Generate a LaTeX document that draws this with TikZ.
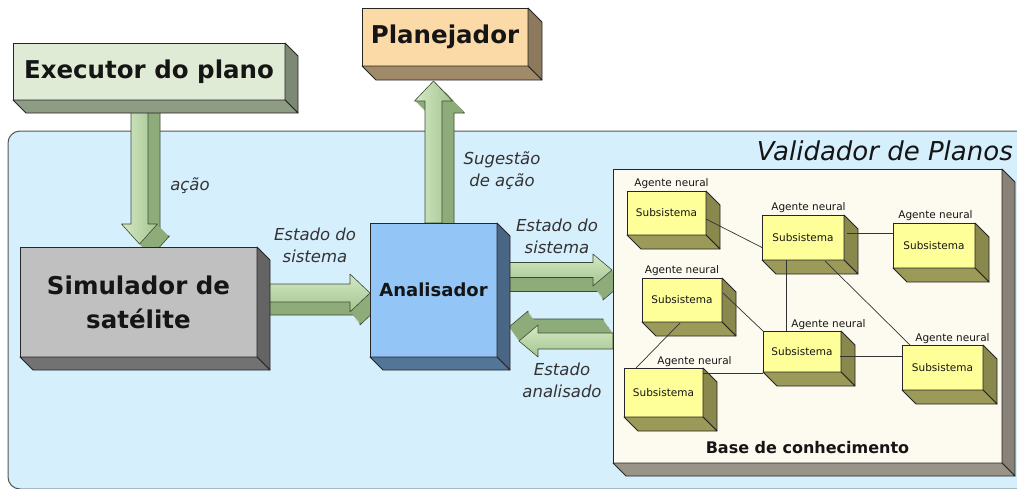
\documentclass[tikz,border=0pt]{standalone}
\usepackage{fontspec}
\setmainfont{DejaVu Sans}
\usetikzlibrary{calc}
\pgfdeclarelayer{bgl}
\pgfdeclarelayer{arrl}
\pgfsetlayers{bgl,arrl,main}
\definecolor{validbg}{HTML}{D6EFFC}
\definecolor{validline}{HTML}{555555}
\definecolor{execf}{HTML}{DFEBD5}
\definecolor{execs}{HTML}{8E9C84}
\definecolor{planf}{HTML}{FCDAA8}
\definecolor{plans}{HTML}{A08A68}
\definecolor{simf}{HTML}{C0C0C0}
\definecolor{sims}{HTML}{727272}
\definecolor{anaf}{HTML}{93C6F7}
\definecolor{anas}{HTML}{537597}
\definecolor{basef}{HTML}{FDFAEF}
\definecolor{bases}{HTML}{9A9488}
\definecolor{subf}{HTML}{FFFF99}
\definecolor{subs}{HTML}{9C9A58}
\definecolor{arrlight}{HTML}{D4E9C4}
\definecolor{arrdark}{HTML}{A4C490}
\definecolor{arrside}{HTML}{8EAC79}
\definecolor{arrline}{HTML}{3C4A34}
\definecolor{txt}{HTML}{151515}
\definecolor{ltxt}{HTML}{333333}

\newcommand\boxsides[3]{%
  \filldraw[fill=#2!88!black, draw=black!85, line width=0.8pt, line join=round]
    (#1.north east) -- ++(#3,#3) -- ($(#1.south east)+(#3,#3)$) -- (#1.south east) -- cycle;
  \filldraw[fill=#2, draw=black!85, line width=0.8pt, line join=round]
    (#1.south west) -- ++(#3,#3) -- ($(#1.south east)+(#3,#3)$) -- (#1.south east) -- cycle;
}
% one copy of a block arrow: from, to, half shaft, half head, head length, offset x, offset y (canvas), style
\newcommand\arrowpiece[8]{%
  \path[#8] let \p1=(#1), \p2=(#2), \n1={veclen(\x2-\x1,\y2-\y1)},
      \n2={(\x2-\x1)/\n1}, \n3={(\y2-\y1)/\n1} in
    ({\x1-(\n3)*#3+(#6)},{\y1+(\n2)*#3+(#7)})
 -- ({\x2-(\n2)*#5-(\n3)*#3+(#6)},{\y2-(\n3)*#5+(\n2)*#3+(#7)})
 -- ({\x2-(\n2)*#5-(\n3)*#4+(#6)},{\y2-(\n3)*#5+(\n2)*#4+(#7)})
 -- ({\x2+(#6)},{\y2+(#7)})
 -- ({\x2-(\n2)*#5+(\n3)*#4+(#6)},{\y2-(\n3)*#5-(\n2)*#4+(#7)})
 -- ({\x2-(\n2)*#5+(\n3)*#3+(#6)},{\y2-(\n3)*#5-(\n2)*#3+(#7)})
 -- ({\x1+(\n3)*#3+(#6)},{\y1-(\n2)*#3+(#7)}) -- cycle;
}
% block arrow with extrusion #6,#7 (pixels, #7 positive = down), #8 front shading
\newcommand\blockarrow[8]{%
  \arrowpiece{#1}{#2}{#3}{#4}{#5}{#6}{-(#7)}{fill=arrside, draw=arrline, line width=0.6pt, line join=round}
  \foreach \k in {11,...,1}{%
    \arrowpiece{#1}{#2}{#3}{#4}{#5}{\k*(#6)/12}{-\k*(#7)/12}{fill=arrside}}
  \arrowpiece{#1}{#2}{#3}{#4}{#5}{0}{0}{draw=arrline, line width=0.6pt, line join=round, #8}
}

\begin{document}
\begin{tikzpicture}[x=1pt,y=-1pt,
  face/.style={draw=black!85, line width=0.8pt, inner sep=0pt, outer sep=0pt,
    anchor=north west, align=center, text=txt},
  bigtxt/.style={font=\fontsize{24.5}{34}\selectfont\bfseries},
  subbox/.style={face, fill=subf, minimum width=80pt, minimum height=45pt,
    font=\fontsize{10.5}{12}\selectfont},
  agent/.style={anchor=base, inner sep=0pt, font=\fontsize{10.5}{12}\selectfont, text=txt},
  lbl/.style={align=center, inner sep=0pt, text=ltxt, font=\fontsize{16.5}{22}\selectfont\itshape},
  link/.style={draw=black!80, line width=0.7pt}]
\useasboundingbox (0,0) rectangle (1017,488);
\clip (0,0) rectangle (1017,488);

\begin{pgfonlayer}{bgl}
\fill[white] (0,0) rectangle (1017,488);
\filldraw[fill=validbg, draw=validline, line width=1pt, rounded corners=12pt]
  (8,131) rectangle (1040,489);
\end{pgfonlayer}

% main boxes
\node[face, fill=execf, minimum width=272pt, minimum height=57pt, bigtxt] (exec) at (13,43) {Executor do plano};
\boxsides{exec}{execs}{13}
\node[face, fill=planf, minimum width=166pt, minimum height=58pt, bigtxt] (plan) at (362,8) {Planejador};
\boxsides{plan}{plans}{14}
\node[face, fill=simf, minimum width=237pt, minimum height=110pt, bigtxt] (sim) at (20,247) {Simulador de\\satélite};
\boxsides{sim}{sims}{13}
\node[face, fill=anaf, minimum width=127pt, minimum height=134pt, font=\fontsize{18}{22}\selectfont\bfseries] (ana) at (370,223) {Analisador};
\boxsides{ana}{anas}{13}
\node[face, fill=basef, minimum width=389pt, minimum height=294pt] (base) at (613,169) {};
\boxsides{base}{bases}{13}
\node[anchor=center, inner sep=0pt, text=txt, font=\fontsize{16}{18}\selectfont\bfseries] (basetxt) at (807.5,448) {Base de conhecimento};

% title
\node[anchor=base east, inner sep=0pt, text=txt, font=\fontsize{26}{30}\selectfont\itshape] (title) at (1013,160) {Validador de Planos};

% sub-systems
\node[subbox, minimum width=79pt, minimum height=44pt] (s1) at (627,191) {Subsistema};
\boxsides{s1}{subs}{14}
\node[subbox, minimum width=82pt] (s2) at (762,215) {Subsistema};
\boxsides{s2}{subs}{14}
\node[subbox, minimum width=82pt] (s3) at (893,223) {Subsistema};
\boxsides{s3}{subs}{14}
\node[subbox, minimum height=44pt] (s4) at (642,278) {Subsistema};
\boxsides{s4}{subs}{14}
\node[subbox, minimum width=78pt, minimum height=41pt] (s5) at (763,331) {Subsistema};
\boxsides{s5}{subs}{14}
\node[subbox, minimum width=81pt] (s6) at (902,345) {Subsistema};
\boxsides{s6}{subs}{14}
\node[subbox, minimum width=79pt, minimum height=49pt] (s7) at (624,368) {Subsistema};
\boxsides{s7}{subs}{14}

\node[agent] (l1) at ($(s1.north)+(5,-4.5)$) {Agente neural};
\node[agent] (l2) at ($(s2.north)+(5.5,-4.5)$) {Agente neural};
\node[agent] (l3) at ($(s3.north)+(1.5,-4.5)$) {Agente neural};
\node[agent] (l4) at ($(s4.north)+(0,-5)$) {Agente neural};
\node[agent] (l5) at ($(s5.north)+(26.5,-4)$) {Agente neural};
\node[agent] (l6) at ($(s6.north)+(10,-4)$) {Agente neural};
\node[agent] (l7) at ($(s7.north)+(31,-4)$) {Agente neural};

% link end points
\coordinate (k23a) at ($(s2.east)+(3,-4)$);
\coordinate (k23b) at (k23a -| s3.west);
\coordinate (k25a) at ($(s2.south)+(-17,0)$);
\coordinate (k25b) at (k25a |- s5.north);
\coordinate (k75a) at ($(s7.north east)+(0,5)$);
\coordinate (k75b) at (k75a -| s5.west);
\coordinate (k56a) at ($(s5.east)+(-1,4.5)$);
\coordinate (k56b) at (k56a -| s6.west);

% links between agents
\draw[link] ($(s1.east)+(0,6)$) -- ($(s2.west)+(0,10)$);
\draw[link] (k23a) -- (k23b);
\draw[link] (k25a) -- (k25b);
\draw[link] ($(s2.south)+(22,1)$) -- ($(s6.north west)+(8,0)$);
\draw[link] ($(s4.east)+(1,-7)$) -- (s5.north west);
\draw[link] ($(s4.south)+(-2,1)$) -- ($(s7.north west)+(12,0)$);
\draw[link] (k75a) -- (k75b);
\draw[link] (k56a) -- (k56b);

% arrow end points
\coordinate (a1s) at ($(exec.south)+(-9.5,0)$);
\coordinate (a1e) at ($(a1s |- sim.north)+(0,-3)$);
\coordinate (a2s) at (ana.north);
\coordinate (a2e) at ($(a2s |- plan.south)+(0,15)$);
\coordinate (e1s) at ($(sim.east)+(0,-9)$);
\coordinate (e1e) at (e1s -| ana.west);
\coordinate (e2s) at ($(ana.east)+(0,-20)$);
\coordinate (e2e) at ($(e2s -| base.west)+(-1,0)$);
\coordinate (e3s) at ($(base.west)+(0,25)$);
\coordinate (e3e) at ($(e3s -| ana.east)+(22,0)$);

\begin{pgfonlayer}{arrl}
\blockarrow{a1s}{a1e}{8.5}{18}{20}{12}{12}{left color=arrlight, right color=arrdark}
\blockarrow{a2s}{a2e}{8.5}{19}{20}{12}{12}{left color=arrlight, right color=arrdark}
\blockarrow{e1s}{e1e}{9}{19}{20}{10}{13}{top color=arrlight, bottom color=arrdark}
\blockarrow{e2s}{e2e}{7.5}{16}{19}{10}{14}{top color=arrlight, bottom color=arrdark}
\blockarrow{e3s}{e3e}{8}{16}{19}{-10}{-14}{top color=arrlight, bottom color=arrdark}
\end{pgfonlayer}

% arrow labels
\node[lbl] (la1) at (190,186) {ação};
\node[lbl] (la2) at (502,171) {Sugestão\\de ação};
\node[lbl] (le1) at (315,245) {Estado do\\sistema};
\node[lbl] (le2) at (557,236) {Estado do\\sistema};
\node[lbl] (le3) at (562,380) {Estado\\analisado};
\end{tikzpicture}
\end{document}
